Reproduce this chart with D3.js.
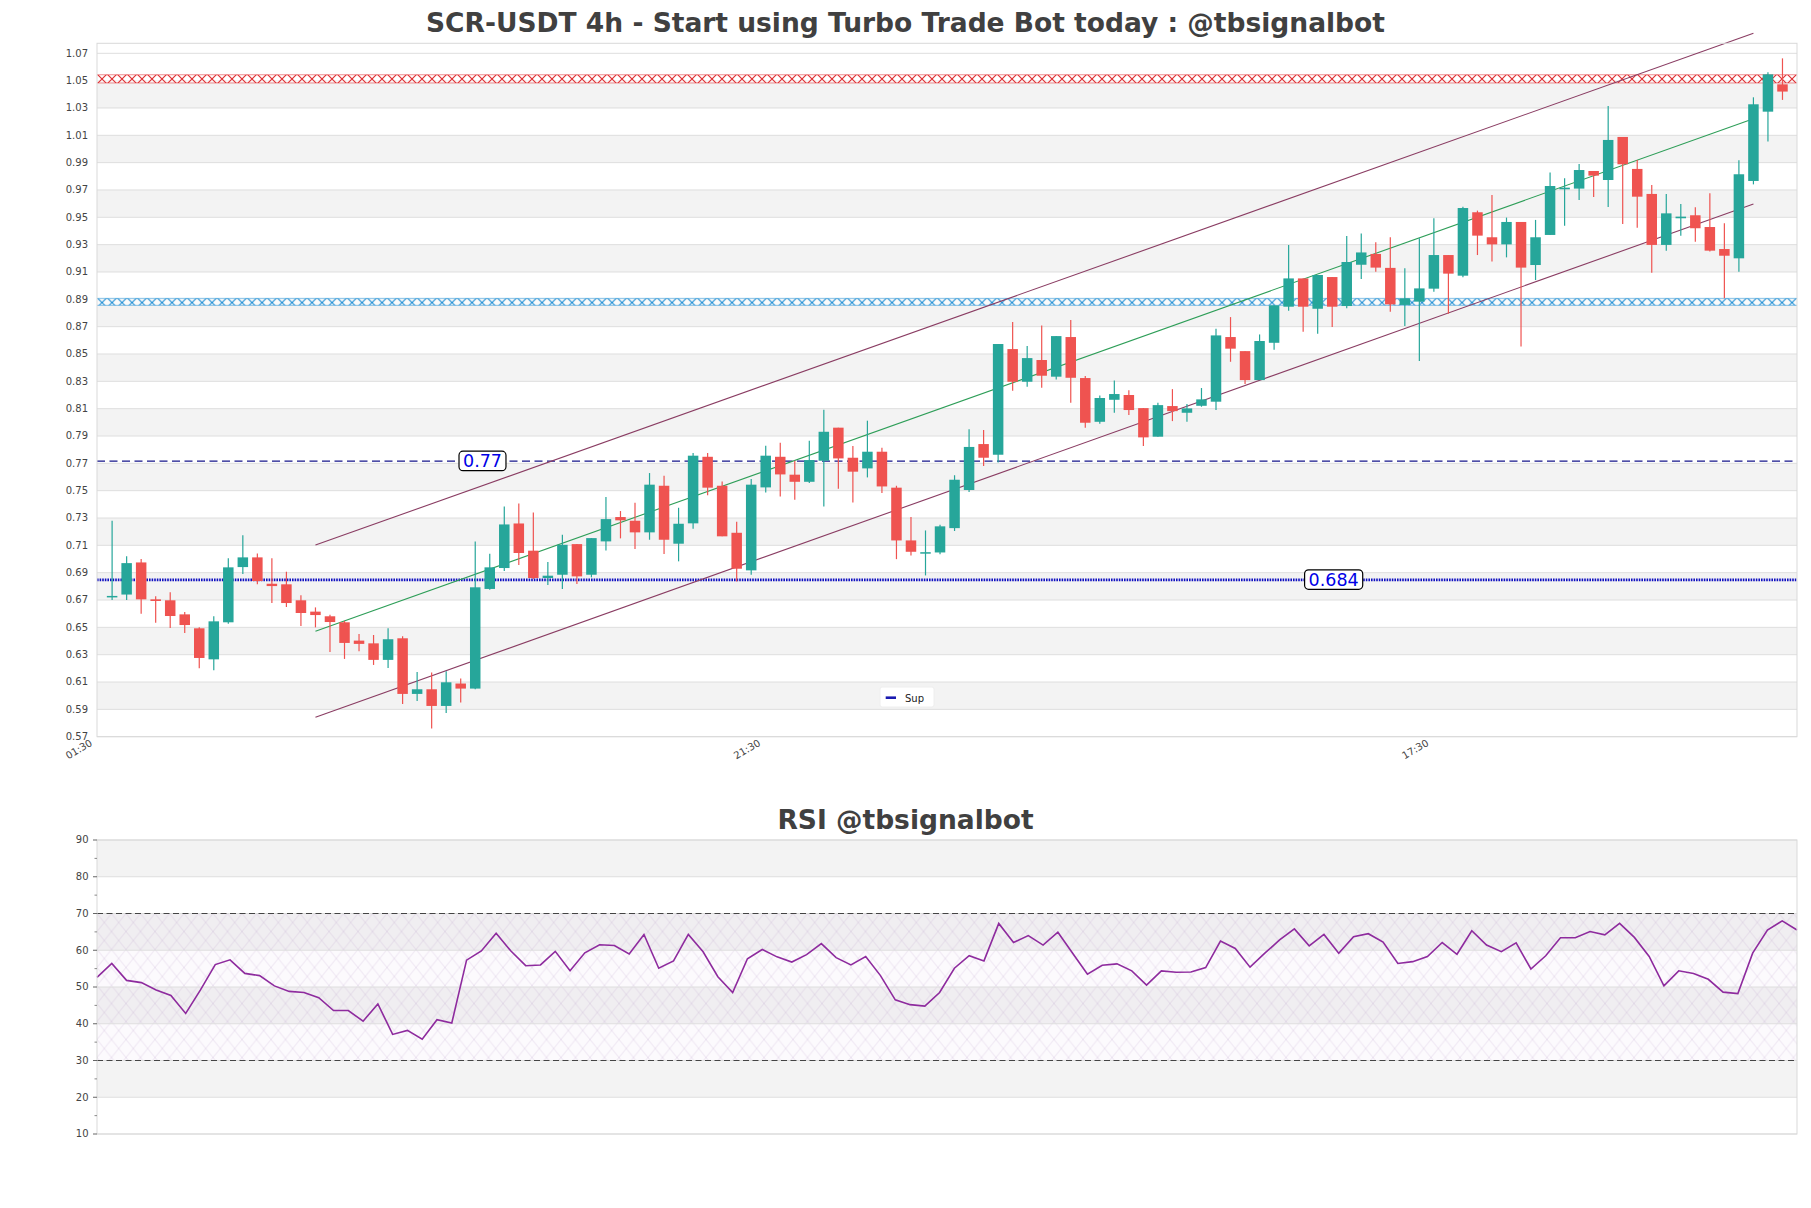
<!DOCTYPE html>
<html><head><meta charset="utf-8">
<script src="https://cdn.jsdelivr.net/npm/d3@7"></script>
<style>
body{margin:0;background:#fff;}
svg{display:block;font-family:"DejaVu Sans",sans-serif;}
</style>
</head><body>
<svg id="chart" width="1811" height="1208"></svg>
<script>
// ---------- DATA ----------
const opens = [0.672,0.674,0.6975,0.6705,0.6698,0.6595,0.6493,0.6266,0.6537,0.6941,
0.7012,0.6819,0.6815,0.6698,0.6615,0.6581,0.6537,0.6403,0.6383,0.6262,
0.642,0.6013,0.6047,0.5925,0.6089,0.6052,0.6781,0.6934,0.726,0.7061,
0.6861,0.6885,0.7109,0.6885,0.7129,0.7307,0.728,0.7195,0.7536,0.7112,
0.7261,0.7748,0.7536,0.7192,0.6917,0.7524,0.7748,0.7617,0.7565,0.7719,
0.7961,0.7741,0.7663,0.7785,0.7522,0.7136,0.7046,0.7048,0.7226,0.7505,
0.7841,0.7763,0.8536,0.8297,0.8456,0.8334,0.8624,0.8324,0.8004,0.8165,
0.82,0.8104,0.7895,0.8119,0.807,0.8121,0.8151,0.8624,0.8521,0.8309,
0.8582,0.8846,0.9053,0.8831,0.9063,0.8851,0.9153,0.9232,0.913,0.8859,
0.8883,0.8978,0.9224,0.9073,0.9537,0.9354,0.9302,0.9466,0.9151,0.9371,
0.9705,0.971,0.9839,0.9773,1.0088,0.9854,0.9671,0.9298,0.9493,0.9515,
0.9429,0.9268,0.92,0.9766,1.0273,1.0473];
const highs = [0.728,0.702,0.700,0.6727,0.6756,0.6612,0.650,0.6581,0.7005,0.7173,
0.7041,0.7005,0.6907,0.6734,0.6646,0.6593,0.6547,0.6452,0.6444,0.6493,
0.6435,0.6174,0.6169,0.6179,0.6125,0.7129,0.7039,0.7385,0.7407,0.7341,
0.6978,0.7178,0.7109,0.7153,0.7453,0.7351,0.7412,0.7629,0.761,0.7375,
0.7775,0.7775,0.7568,0.7273,0.7585,0.7829,0.7851,0.7719,0.7866,0.8092,
0.7961,0.7826,0.8012,0.7814,0.7536,0.7307,0.7209,0.7251,0.7613,0.795,
0.7944,0.8573,0.8734,0.8558,0.8709,0.8631,0.8748,0.8339,0.8197,0.8307,
0.8234,0.8104,0.8143,0.8243,0.8134,0.8251,0.8685,0.877,0.8521,0.8643,
0.8856,0.9297,0.9053,0.9078,0.9063,0.9363,0.9382,0.9317,0.9354,0.9127,
0.9346,0.9493,0.9224,0.9578,0.9549,0.9663,0.9498,0.9466,0.9481,0.9827,
0.9785,0.989,0.9839,1.0315,1.0088,0.992,0.9737,0.9671,0.9598,0.9573,
0.9676,0.9456,0.9917,1.0378,1.0561,1.0663];
const lows = [0.670,0.670,0.660,0.6534,0.6495,0.6459,0.6201,0.6186,0.6527,0.689,
0.6815,0.6678,0.6649,0.651,0.650,0.632,0.6269,0.6325,0.6225,0.6203,
0.594,0.5962,0.576,0.5874,0.595,0.6047,0.6775,0.6912,0.6956,0.6853,
0.6809,0.678,0.6817,0.6866,0.7063,0.7151,0.7073,0.7141,0.7036,0.6983,
0.7222,0.7466,0.7166,0.6836,0.6885,0.7487,0.7458,0.7434,0.7556,0.7385,
0.7514,0.7414,0.7597,0.7483,0.6999,0.7026,0.688,0.7034,0.7205,0.749,
0.768,0.7707,0.8231,0.826,0.8253,0.8314,0.8143,0.796,0.799,0.807,
0.8053,0.7826,0.7895,0.8009,0.8004,0.8114,0.809,0.8443,0.828,0.8309,
0.8531,0.8817,0.8663,0.8648,0.8697,0.8834,0.9048,0.9102,0.881,0.8705,
0.8449,0.8956,0.8795,0.9061,0.9224,0.9176,0.9207,0.8554,0.9041,0.9371,
0.9439,0.9627,0.9649,0.9576,0.9451,0.9424,0.9095,0.9256,0.9366,0.9322,
0.9249,0.8907,0.9102,0.9741,1.0054,1.0359];
const closes = [0.673,0.697,0.6705,0.6693,0.6583,0.6517,0.6276,0.6544,0.6939,0.7012,
0.6839,0.6802,0.6678,0.6605,0.659,0.6539,0.6386,0.6379,0.6262,0.6413,
0.6013,0.6047,0.5925,0.6098,0.6052,0.6793,0.6939,0.7253,0.7044,0.6861,
0.6878,0.7104,0.6873,0.7153,0.7292,0.7283,0.7195,0.7544,0.7141,0.7258,
0.7756,0.7522,0.7166,0.6929,0.7544,0.7756,0.7619,0.7565,0.7724,0.7931,
0.7736,0.7639,0.7785,0.7531,0.7136,0.7053,0.705,0.7239,0.758,0.782,
0.7741,0.8573,0.8297,0.847,0.8341,0.8631,0.8326,0.7997,0.8178,0.8207,
0.809,0.789,0.8126,0.8082,0.8102,0.8168,0.8636,0.8539,0.8309,0.8595,
0.8856,0.9053,0.8846,0.9078,0.8846,0.9173,0.9243,0.9132,0.8863,0.8907,
0.898,0.9224,0.9088,0.9568,0.9366,0.9302,0.9466,0.9132,0.9354,0.9729,
0.9717,0.9846,0.9805,1.0066,0.9888,0.9651,0.9298,0.9529,0.9505,0.942,
0.9256,0.9219,0.9815,1.0327,1.0546,1.042];
const rsiValues = [52.6,56.4,51.8,51.2,49.2,47.7,42.8,49.2,56.1,57.4,
53.7,53.1,50.3,48.8,48.5,47.1,43.6,43.6,40.7,45.4,
37.1,38.2,35.8,41.1,40.2,57.3,59.8,64.6,59.8,55.8,
56.0,59.7,54.4,59.3,61.5,61.3,59.0,64.3,55.1,57.1,
64.3,59.6,52.8,48.5,57.7,60.2,58.2,56.8,58.8,61.8,
58.0,56.0,58.3,53.1,46.5,45.2,44.8,48.5,55.1,58.5,
57.1,67.3,62.1,64.0,61.4,64.9,59.2,53.5,55.9,56.3,
54.4,50.5,54.4,54.0,54.1,55.3,62.5,60.5,55.4,59.2,
62.8,65.8,61.2,64.3,59.2,63.7,64.5,62.2,56.4,56.9,
58.3,62.1,58.9,65.3,61.4,59.6,62.0,54.9,58.5,63.4,
63.4,65.1,64.2,67.3,63.5,58.3,50.3,54.4,53.7,52.1,
48.6,48.2,59.2,65.5,68.0,65.5];
const priceTicks = [1.07,1.05,1.03,1.01,0.99,0.97,0.95,0.93,0.91,0.89,0.87,0.85,0.83,
0.81,0.79,0.77,0.75,0.73,0.71,0.69,0.67,0.65,0.63,0.61,0.59,0.57];
const rsiTicks = [90,80,70,60,50,40,30,20,10];
const rsiMinorTicks = [85,75,65,55,45,35,25,15];
const xTickIndex = [0,46,92];
const xTickLabels = ["01:30","21:30","17:30"];
const resistanceZone = [1.0483,1.0543];
const supportZone = [0.8856,0.8907];
const levelValue = 0.7716, levelText = "0.77";
const supValue = 0.6848, supText = "0.684";
const channelIdx = [14,113];
const channelUpper = [0.7102,1.0846];
const channelMid = [0.6472,1.0221];
const channelLower = [0.5842,0.9597];
const rsiLevels = [70,30];
const mainTitle = "SCR-USDT 4h - Start using Turbo Trade Bot today : @tbsignalbot";
const rsiTitle = "RSI @tbsignalbot";

// ---------- LAYOUT ----------
const svg = d3.select("#chart");
const L = 97, R = 1797, T = 43.3, B = 736.7;
const x = d3.scaleLinear().domain([-1.04,116]).range([L,R]);
const y = d3.scaleLinear().domain([0.57,1.07]).range([736.7,53.3]);
const rT = 840, rB = 1134;
const xr = d3.scaleLinear().domain([0,115]).range([L,R]);
const yr = d3.scaleLinear().domain([10,90]).range([rB,rT]);
const GREEN = "#26a69a", RED = "#ef5350", BAND = "#f3f3f3", GRID = "#dedede", TXT = "#444";

const defs = svg.append("defs");
function hatch(id, color, top){
  const p = defs.append("pattern").attr("id",id).attr("patternUnits","userSpaceOnUse")
    .attr("x",L).attr("y",top-0.8).attr("width",10).attr("height",10);
  p.append("path").attr("d","M0,0L10,10M0,10L10,0").attr("stroke",color).attr("stroke-width",1.1).attr("fill","none");
}
const rp = defs.append("pattern").attr("id","rsiHatch").attr("patternUnits","userSpaceOnUse")
  .attr("x",L).attr("y",yr(70)).attr("width",14.5).attr("height",18);
rp.append("path").attr("d","M0,0L14.5,18M0,18L14.5,0").attr("stroke","rgba(170,130,190,0.3)").attr("stroke-width",0.7).attr("fill","none");

// titles
svg.append("text").attr("x",905.5).attr("y",32.3).attr("text-anchor","middle")
  .attr("font-size",26.5).attr("font-weight","bold").attr("fill","#404040").text(mainTitle);
svg.append("text").attr("x",905.5).attr("y",829.3).attr("text-anchor","middle")
  .attr("font-size",26.5).attr("font-weight","bold").attr("fill","#404040").text(rsiTitle);

// ---------- MAIN PANEL ----------
const g = svg.append("g");
g.append("rect").attr("x",L).attr("y",T).attr("width",R-L).attr("height",B-T).attr("fill","#fff");
for(let k=0;k<priceTicks.length-1;k++){
  if(k%2===1){
    g.append("rect").attr("x",L).attr("width",R-L)
      .attr("y",y(priceTicks[k])).attr("height",y(priceTicks[k+1])-y(priceTicks[k])).attr("fill",BAND);
  }
}
g.selectAll("line.grid").data(priceTicks).join("line").attr("class","grid")
  .attr("x1",L).attr("x2",R).attr("y1",d=>y(d)).attr("y2",d=>y(d)).attr("stroke",GRID).attr("stroke-width",1);

// zones
function zone(id,color,vals){
  const top = y(vals[1]), bot = y(vals[0]);
  hatch(id,color,top);
  g.append("rect").attr("x",L).attr("y",top).attr("width",R-L).attr("height",bot-top).attr("fill","#fff").attr("opacity",0.6);
  g.append("rect").attr("x",L).attr("y",top).attr("width",R-L).attr("height",bot-top).attr("fill",`url(#${id})`);
  [top,bot].forEach(v=>g.append("line").attr("x1",L).attr("x2",R).attr("y1",v).attr("y2",v)
    .attr("stroke",color).attr("stroke-width",0.8).attr("opacity",0.65));
}
zone("hatchRed","#e0282c",resistanceZone);
zone("hatchBlue","#1f8fd6",supportZone);

// horizontal level lines
g.append("line").attr("x1",L).attr("x2",R).attr("y1",y(levelValue)).attr("y2",y(levelValue))
  .attr("stroke","#16168a").attr("stroke-width",1.4).attr("stroke-dasharray","8,4.5");
g.append("line").attr("x1",L).attr("x2",R).attr("y1",y(supValue)).attr("y2",y(supValue))
  .attr("stroke","#1010c0").attr("stroke-width",2.8).attr("stroke-dasharray","1.6,1");

// channel
const chLine = d3.line().x((d,i)=>x(channelIdx[i])).y(d=>y(d));
[[channelUpper,"#8a3d63"],[channelLower,"#8a3d63"],[channelMid,"#2e9e58"]].forEach(([v,c])=>{
  g.append("path").attr("d",chLine(v)).attr("stroke",c).attr("stroke-width",1.1).attr("fill","none");
});

// candles
const idx = d3.range(opens.length);
const bw = 10.5;
const cg = g.append("g");
cg.selectAll("line.wick").data(idx).join("line").attr("class","wick")
  .attr("x1",i=>x(i)).attr("x2",i=>x(i)).attr("y1",i=>y(highs[i])).attr("y2",i=>y(lows[i]))
  .attr("stroke",i=>closes[i]>=opens[i]?GREEN:RED).attr("stroke-width",1.2);
cg.selectAll("rect.body").data(idx).join("rect").attr("class","body")
  .attr("x",i=>x(i)-bw/2).attr("width",bw)
  .attr("y",i=>y(Math.max(opens[i],closes[i])))
  .attr("height",i=>Math.max(1.5,Math.abs(y(opens[i])-y(closes[i]))))
  .attr("fill",i=>closes[i]>=opens[i]?GREEN:RED);

// level labels
function boxLabel(cx, val, text){
  const cy = y(val);
  const t = g.append("text").attr("x",cx).attr("y",cy).attr("dy","0.36em").attr("text-anchor","middle")
    .attr("font-size",17.5).attr("fill","#0000e6").text(text);
  const bb = t.node().getBBox();
  g.insert("rect", () => t.node()).attr("x",bb.x-4).attr("y",cy-10).attr("width",bb.width+8).attr("height",19.5)
    .attr("rx",4).attr("fill","#fff").attr("stroke","#000").attr("stroke-width",1.2);
}
boxLabel(x(25.5), levelValue, levelText);
boxLabel(x(84.1), supValue, supText);

// legend
const lg = g.append("g");
lg.append("rect").attr("x",880).attr("y",687).attr("width",54).attr("height",20).attr("rx",2)
  .attr("fill","#fff").attr("stroke","#eeeeee");
lg.append("line").attr("x1",885.7).attr("x2",896).attr("y1",697.7).attr("y2",697.7).attr("stroke","#1a1ab0").attr("stroke-width",2.6);
lg.append("text").attr("x",905).attr("y",701.5).attr("font-size",10).attr("fill","#222").text("Sup");

// frame
g.append("rect").attr("x",L).attr("y",T).attr("width",R-L).attr("height",B-T).attr("fill","none").attr("stroke","#d9d9d9").attr("stroke-width",1);

// axis labels
g.selectAll("text.yl").data(priceTicks).join("text").attr("class","yl")
  .attr("x",88).attr("y",d=>y(d)).attr("dy","0.34em").attr("text-anchor","end")
  .attr("font-size",10).attr("fill",TXT).text(d=>d.toFixed(2));
g.selectAll("text.xl").data(xTickIndex).join("text").attr("class","xl")
  .attr("text-anchor","end").attr("font-size",10).attr("fill",TXT)
  .attr("transform",d=>`translate(${x(d)-19},745) rotate(-30)`)
  .text((d,i)=>xTickLabels[i]);

// ---------- RSI PANEL ----------
const r = svg.append("g");
for(let k=0;k<rsiTicks.length-1;k++){
  r.append("rect").attr("x",L).attr("width",R-L).attr("y",yr(rsiTicks[k])).attr("height",yr(rsiTicks[k+1])-yr(rsiTicks[k]))
   .attr("fill",k%2===0?BAND:"#fff");
}
r.append("rect").attr("x",L).attr("width",R-L).attr("y",yr(70)).attr("height",yr(30)-yr(70))
  .attr("fill","rgba(200,170,215,0.06)");
r.append("rect").attr("x",L).attr("width",R-L).attr("y",yr(70)).attr("height",yr(30)-yr(70))
  .attr("fill","url(#rsiHatch)");
r.selectAll("line.rg").data(rsiTicks).join("line").attr("class","rg")
  .attr("x1",L).attr("x2",R).attr("y1",d=>yr(d)).attr("y2",d=>yr(d)).attr("stroke",GRID);
r.selectAll("line.lvl").data(rsiLevels).join("line").attr("class","lvl")
  .attr("x1",L).attr("x2",R).attr("y1",d=>yr(d)).attr("y2",d=>yr(d))
  .attr("stroke","#444").attr("stroke-width",1.2).attr("stroke-dasharray","6,3.5");
r.append("path").datum(rsiValues)
  .attr("d",d3.line().x((d,i)=>xr(i)).y(d=>yr(d)))
  .attr("fill","none").attr("stroke","#8e2b9e").attr("stroke-width",1.6);
r.append("rect").attr("x",L).attr("y",rT).attr("width",R-L).attr("height",rB-rT).attr("fill","none").attr("stroke","#d9d9d9");
r.selectAll("line.tk").data(rsiTicks).join("line").attr("class","tk")
  .attr("x1",L-4).attr("x2",L).attr("y1",d=>yr(d)).attr("y2",d=>yr(d)).attr("stroke","#666");
r.selectAll("line.mtk").data(rsiMinorTicks).join("line").attr("class","mtk")
  .attr("x1",L-2.5).attr("x2",L).attr("y1",d=>yr(d)).attr("y2",d=>yr(d)).attr("stroke","#888");
r.selectAll("text.ryl").data(rsiTicks).join("text").attr("class","ryl")
  .attr("x",88.5).attr("y",d=>yr(d)).attr("dy","0.34em").attr("text-anchor","end")
  .attr("font-size",10).attr("fill",TXT).text(d=>d);
</script>
</body></html>
